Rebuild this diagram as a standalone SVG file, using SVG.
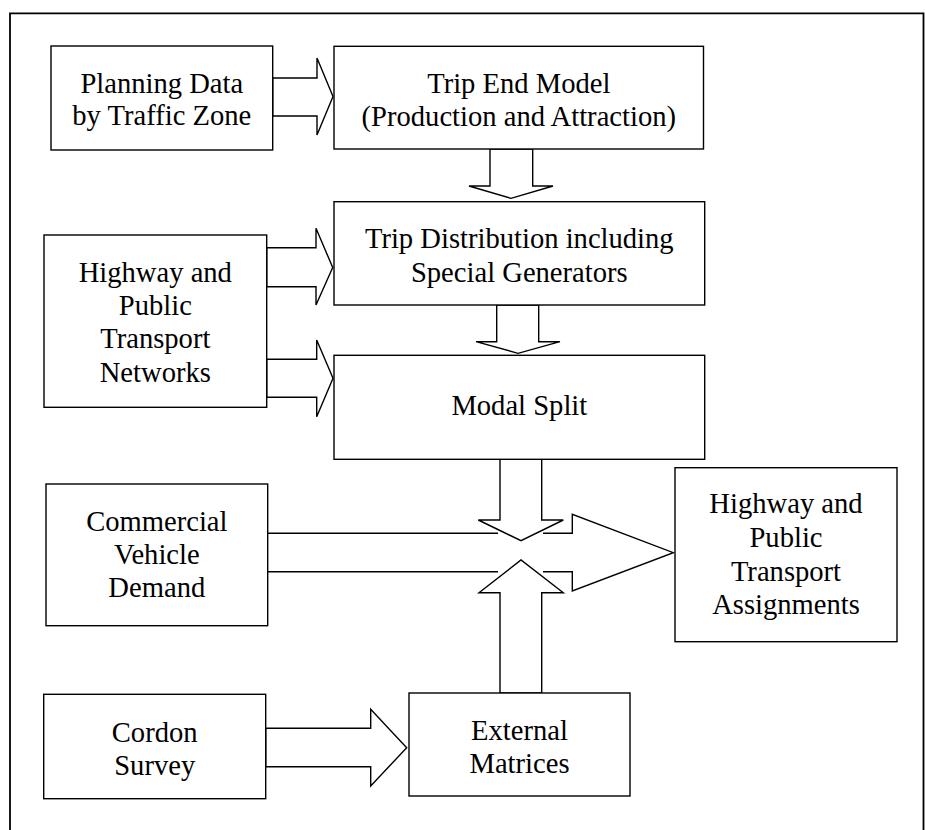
<svg xmlns="http://www.w3.org/2000/svg" width="925" height="830" viewBox="0 0 925 830">
<style>
.box{fill:#fff;stroke:#000;stroke-width:1.4}
.arr{fill:#fff;stroke:#000;stroke-width:1.4;stroke-linejoin:miter}
.fill{fill:#fff;stroke:none}
.ln{fill:none;stroke:#000;stroke-width:1.4}
text{font-family:"Liberation Serif","Times New Roman",serif;font-size:28.6px;fill:#000;text-anchor:middle}
</style>
<rect width="925" height="830" fill="#fff"/>
<path d="M10,840 V13.3 H923.5 V840" fill="none" stroke="#000" stroke-width="1.8"/>

<g id="connectors">
  <polygon class="arr" points="272.7,78 317,78 317,58 333,96.5 317,135 317,116 272.7,116"/>
  <polygon class="arr" points="266.7,247.7 316,247.7 316,228.3 332.7,267.5 316,305 316,286.7 266.7,286.7"/>
  <polygon class="arr" points="266.7,359.3 316.7,359.3 316.7,340 333,378.3 316.7,416.7 316.7,397.3 266.7,397.3"/>
  <polygon class="arr" points="490,149 532.7,149 532.7,186 553,186 511,198.3 469,186 490,186"/>
  <polygon class="arr" points="496.7,305 538.7,305 538.7,341.7 560,341.7 518,353.3 476,341.7 496.7,341.7"/>
  <polygon class="arr" points="370.7,728.3 370.7,709.3 406.7,747.7 370.7,786 370.7,766.7 265.7,766.7 265.7,728.3"/>
  <g id="big-arrow">
    <polygon class="fill" points="267.7,533.3 572.3,533.3 572.3,514.3 673.3,552.7 572.3,591 572.3,571.7 267.7,571.7"/>
    <path class="ln" d="M267.7,533.3 H498 M543,533.3 H572.3 V514.3 L673.3,552.7 L572.3,591 V571.7 H543 M498,571.7 H267.7"/>
  </g>
  <polygon class="arr" points="500,459.3 541.7,459.3 541.7,520 563.3,520 521,540.7 478.3,520 500,520"/>
  <polygon class="arr" points="500,693 500,592.7 479,592.7 521,560 563.3,592.7 541.7,592.7 541.7,693"/>
</g>

<g id="planning-data">
  <rect class="box" x="51" y="46" width="221.7" height="104"/>
  <text x="161.8" y="92.7">Planning Data</text>
  <text x="161.8" y="125">by Traffic Zone</text>
</g>
<g id="trip-end-model">
  <rect class="box" x="334" y="46.3" width="369.5" height="102.7"/>
  <text x="518.8" y="93.3">Trip End Model</text>
  <text x="518.8" y="126">(Production and Attraction)</text>
</g>
<g id="trip-distribution">
  <rect class="box" x="334" y="201.7" width="370.7" height="103.3"/>
  <text x="519.3" y="247.7">Trip Distribution including</text>
  <text x="519.3" y="281.7">Special Generators</text>
</g>
<g id="highway-networks">
  <rect class="box" x="44" y="235" width="222.7" height="172.3"/>
  <text x="155.3" y="281.7">Highway and</text>
  <text x="155.3" y="314.5">Public</text>
  <text x="155.3" y="348.3">Transport</text>
  <text x="155.3" y="381.7">Networks</text>
</g>
<g id="modal-split">
  <rect class="box" x="334" y="355.3" width="370.7" height="104"/>
  <text x="519.3" y="415">Modal Split</text>
</g>
<g id="commercial-vehicle">
  <rect class="box" x="46" y="484" width="221.7" height="141.7"/>
  <text x="156.8" y="530.7">Commercial</text>
  <text x="156.8" y="563.7">Vehicle</text>
  <text x="156.8" y="596.7">Demand</text>
</g>
<g id="assignments">
  <rect class="box" x="675" y="467.7" width="222" height="174"/>
  <text x="786" y="513.3">Highway and</text>
  <text x="786" y="547">Public</text>
  <text x="786" y="580.7">Transport</text>
  <text x="786" y="614">Assignments</text>
</g>
<g id="cordon-survey">
  <rect class="box" x="43.7" y="694.3" width="222" height="104.4"/>
  <text x="154.7" y="741.7">Cordon</text>
  <text x="154.7" y="775">Survey</text>
</g>
<g id="external-matrices">
  <rect class="box" x="409" y="693" width="221" height="103"/>
  <text x="519.5" y="740">External</text>
  <text x="519.5" y="773">Matrices</text>
</g>
</svg>
